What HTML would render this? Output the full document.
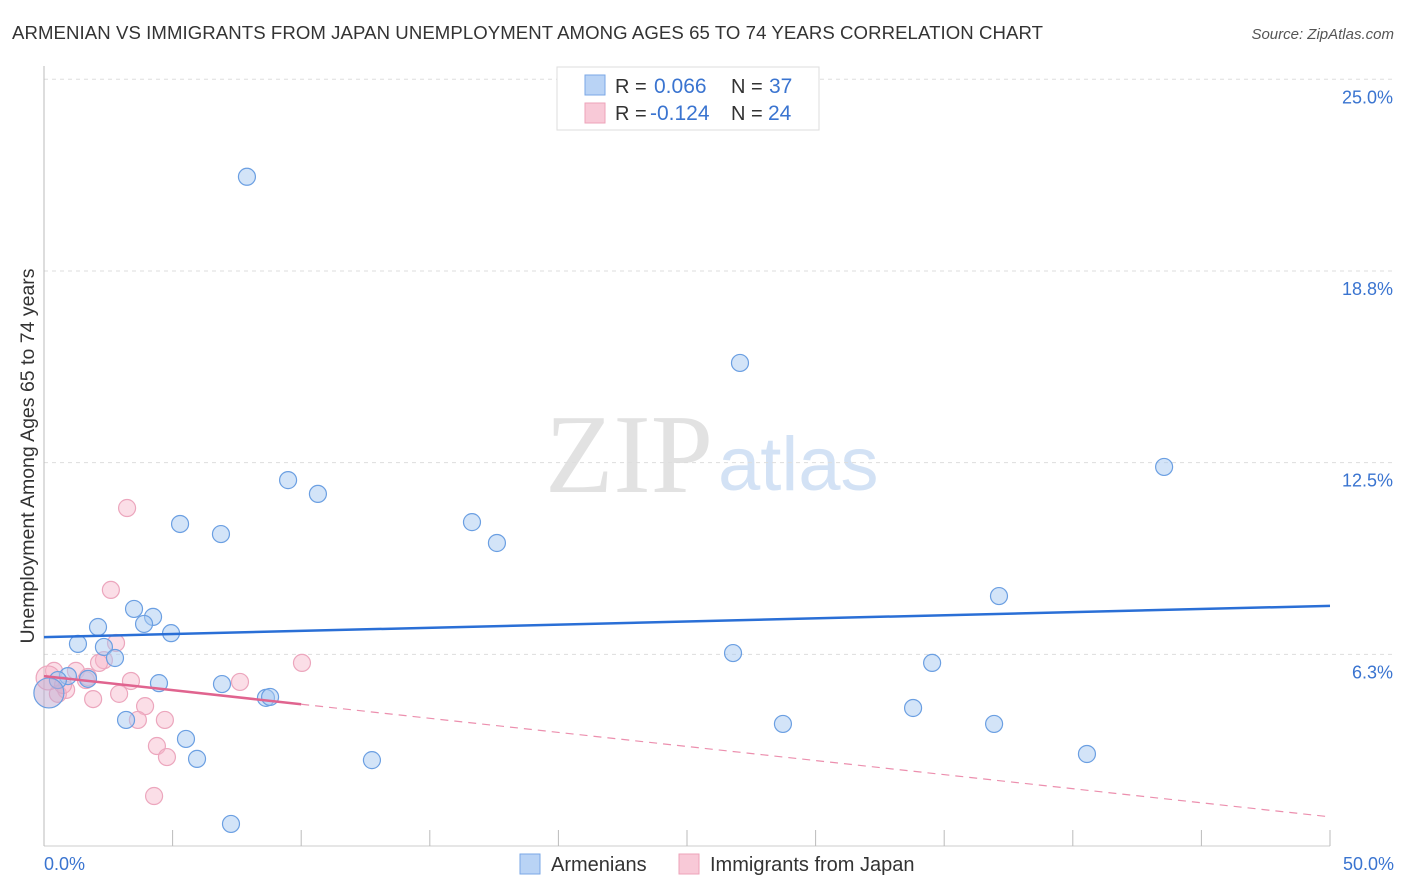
<!DOCTYPE html>
<html><head><meta charset="utf-8"><style>
body{margin:0;background:#fff;font-family:"Liberation Sans",sans-serif;}
svg{display:block}
</style></head><body>
<svg id="c" width="1406" height="892" xmlns="http://www.w3.org/2000/svg">
<text x="12" y="39" font-size="18.6" fill="#333" textLength="1031">ARMENIAN VS IMMIGRANTS FROM JAPAN UNEMPLOYMENT AMONG AGES 65 TO 74 YEARS CORRELATION CHART</text>
<text x="1394" y="39" font-size="15" fill="#555" font-style="italic" text-anchor="end">Source: ZipAtlas.com</text>
<text x="713" y="492" font-size="112" fill="#e2e2e2" font-family="Liberation Serif,serif" text-anchor="end">ZIP</text>
<text x="718" y="490" font-size="76" fill="#d3e2f5">atlas</text>
<g id="grid"></g>
<g id="axes"></g>
<g id="marks"></g>
<text transform="translate(34,456) rotate(-90)" font-size="19.5" fill="#333" text-anchor="middle">Unemployment Among Ages 65 to 74 years</text>
<text x="44" y="870" font-size="18" fill="#3a74d0">0.0%</text>
<text x="1394" y="870" font-size="18" fill="#3a74d0" text-anchor="end">50.0%</text>
<g>
<rect x="557" y="67" width="262" height="63" fill="#fff" stroke="#ddd"/>
<rect x="585" y="75" width="20" height="20" fill="#b9d3f5" stroke="#7aa7e6"/>
<rect x="585" y="103" width="20" height="20" fill="#f8c9d7" stroke="#eea3ba"/>
<text x="615" y="93" font-size="20" fill="#333">R = </text><text x="654" y="93" font-size="21" fill="#3a74d0">0.066</text>
<text x="731" y="93" font-size="20" fill="#333">N = </text><text x="769" y="93" font-size="21" fill="#3a74d0">37</text>
<text x="615" y="120" font-size="20" fill="#333">R = </text><text x="650" y="120" font-size="21" fill="#3a74d0">-0.124</text>
<text x="731" y="120" font-size="20" fill="#333">N = </text><text x="768" y="120" font-size="21" fill="#3a74d0">24</text>
</g>
<g>
<rect x="520" y="854" width="20" height="20" fill="#b9d3f5" stroke="#7aa7e6"/>
<text x="551" y="871" font-size="20" fill="#333">Armenians</text>
<rect x="679" y="854" width="20" height="20" fill="#f8c9d7" stroke="#eea3ba"/>
<text x="710" y="871" font-size="20" fill="#333">Immigrants from Japan</text>
</g>
</svg>
<script>
const yTicks=[6.25,12.5,18.75,25];
const yTickLabels=["6.3%","12.5%","18.8%","25.0%"];
const xTicks=[0,5,10,15,20,25,30,35,40,45,50];
const armX=[7.89,27.06,43.55,9.49,10.65,5.29,6.88,16.64,17.61,37.13,3.50,4.24,3.89,2.10,4.94,1.32,2.33,2.76,26.79,34.53,0.93,0.54,1.71,4.47,6.92,8.63,8.79,3.19,33.79,28.73,36.94,5.52,5.95,12.75,40.55,7.27,0.19];
const armY=[21.82,15.75,12.36,11.93,11.48,10.50,10.17,10.56,9.88,8.15,7.73,7.47,7.24,7.14,6.94,6.59,6.49,6.13,6.29,5.97,5.54,5.41,5.45,5.31,5.28,4.83,4.86,4.11,4.50,3.98,3.98,3.49,2.84,2.80,3.00,0.72,4.99];
const jpX=[3.23,2.60,2.80,2.33,2.14,10.03,0.39,1.24,1.63,3.38,7.62,0.86,0.54,2.92,1.91,3.93,3.65,4.70,4.39,4.78,4.28,0.16,0.74,1.71];
const jpY=[11.02,8.35,6.62,6.06,5.97,5.97,5.71,5.71,5.41,5.38,5.35,5.09,4.96,4.96,4.79,4.56,4.11,4.11,3.26,2.90,1.63,5.48,5.25,5.51];
const armTrend=[6.81,7.83];
const jpTrend=[5.54,0.95];
const jpSolidEnd=10;
const NS="http://www.w3.org/2000/svg";
const X=v=>44+v*1286/50, Y=v=>846-v*30.67;
function mk(tag,attrs,parent){const e=document.createElementNS(NS,tag);for(const k in attrs)e.setAttribute(k,attrs[k]);document.getElementById(parent).appendChild(e);return e;}
yTicks.forEach((t,i)=>{
 const g=mk('line',{x1:44,x2:1394,y1:Y(t),y2:Y(t),stroke:'#ddd','stroke-dasharray':'4,4'},'grid');
 
 
 const l=mk('text',{x:1393,y:Y(t)+24,'font-size':18,fill:'#3a74d0','text-anchor':'end'},'grid');
 l.textContent=yTickLabels[i];
 
 
});
const ax=mk('line',{x1:44,x2:44,y1:66,y2:846,stroke:'#bbb'},'axes');


const bx=mk('line',{x1:44,x2:1330,y1:846,y2:846,stroke:'#ccc'},'axes');


xTicks.forEach(t=>{
 const e=mk('line',{x1:X(t),x2:X(t),y1:830,y2:846,stroke:'#bbb'},'axes');
 
 
});
jpX.forEach((x,i)=>{
 const big=i===21;
 const c=mk('circle',{cx:X(x),cy:Y(jpY[i]),r:big?12:8.5,fill:'rgba(246,182,202,0.45)',stroke:'#eca6bd','stroke-width':1.2},'marks');
 
 
});
armX.forEach((x,i)=>{
 const big=i===36;
 const c=mk('circle',{cx:X(x),cy:Y(armY[i]),r:big?15:8.5,fill:big?'rgba(190,170,210,0.5)':'rgba(168,201,242,0.5)',stroke:'#6b9fe2','stroke-width':1.2},'marks');
 
 
});
const bl=mk('line',{x1:X(0),y1:Y(armTrend[0]),x2:X(50),y2:Y(armTrend[1]),stroke:'#2a6fd6','stroke-width':2.5},'marks');


const jy=v=>jpTrend[0]+(jpTrend[1]-jpTrend[0])*v/50;
const pl=mk('line',{x1:X(0),y1:Y(jy(0)),x2:X(jpSolidEnd),y2:Y(jy(jpSolidEnd)),stroke:'#e0648f','stroke-width':2.5},'marks');


const pd=mk('line',{x1:X(jpSolidEnd),y1:Y(jy(jpSolidEnd)),x2:X(50),y2:Y(jy(50)),stroke:'#ec8fae','stroke-width':1.2,'stroke-dasharray':'8,6'},'marks');


</script>
</body></html>
